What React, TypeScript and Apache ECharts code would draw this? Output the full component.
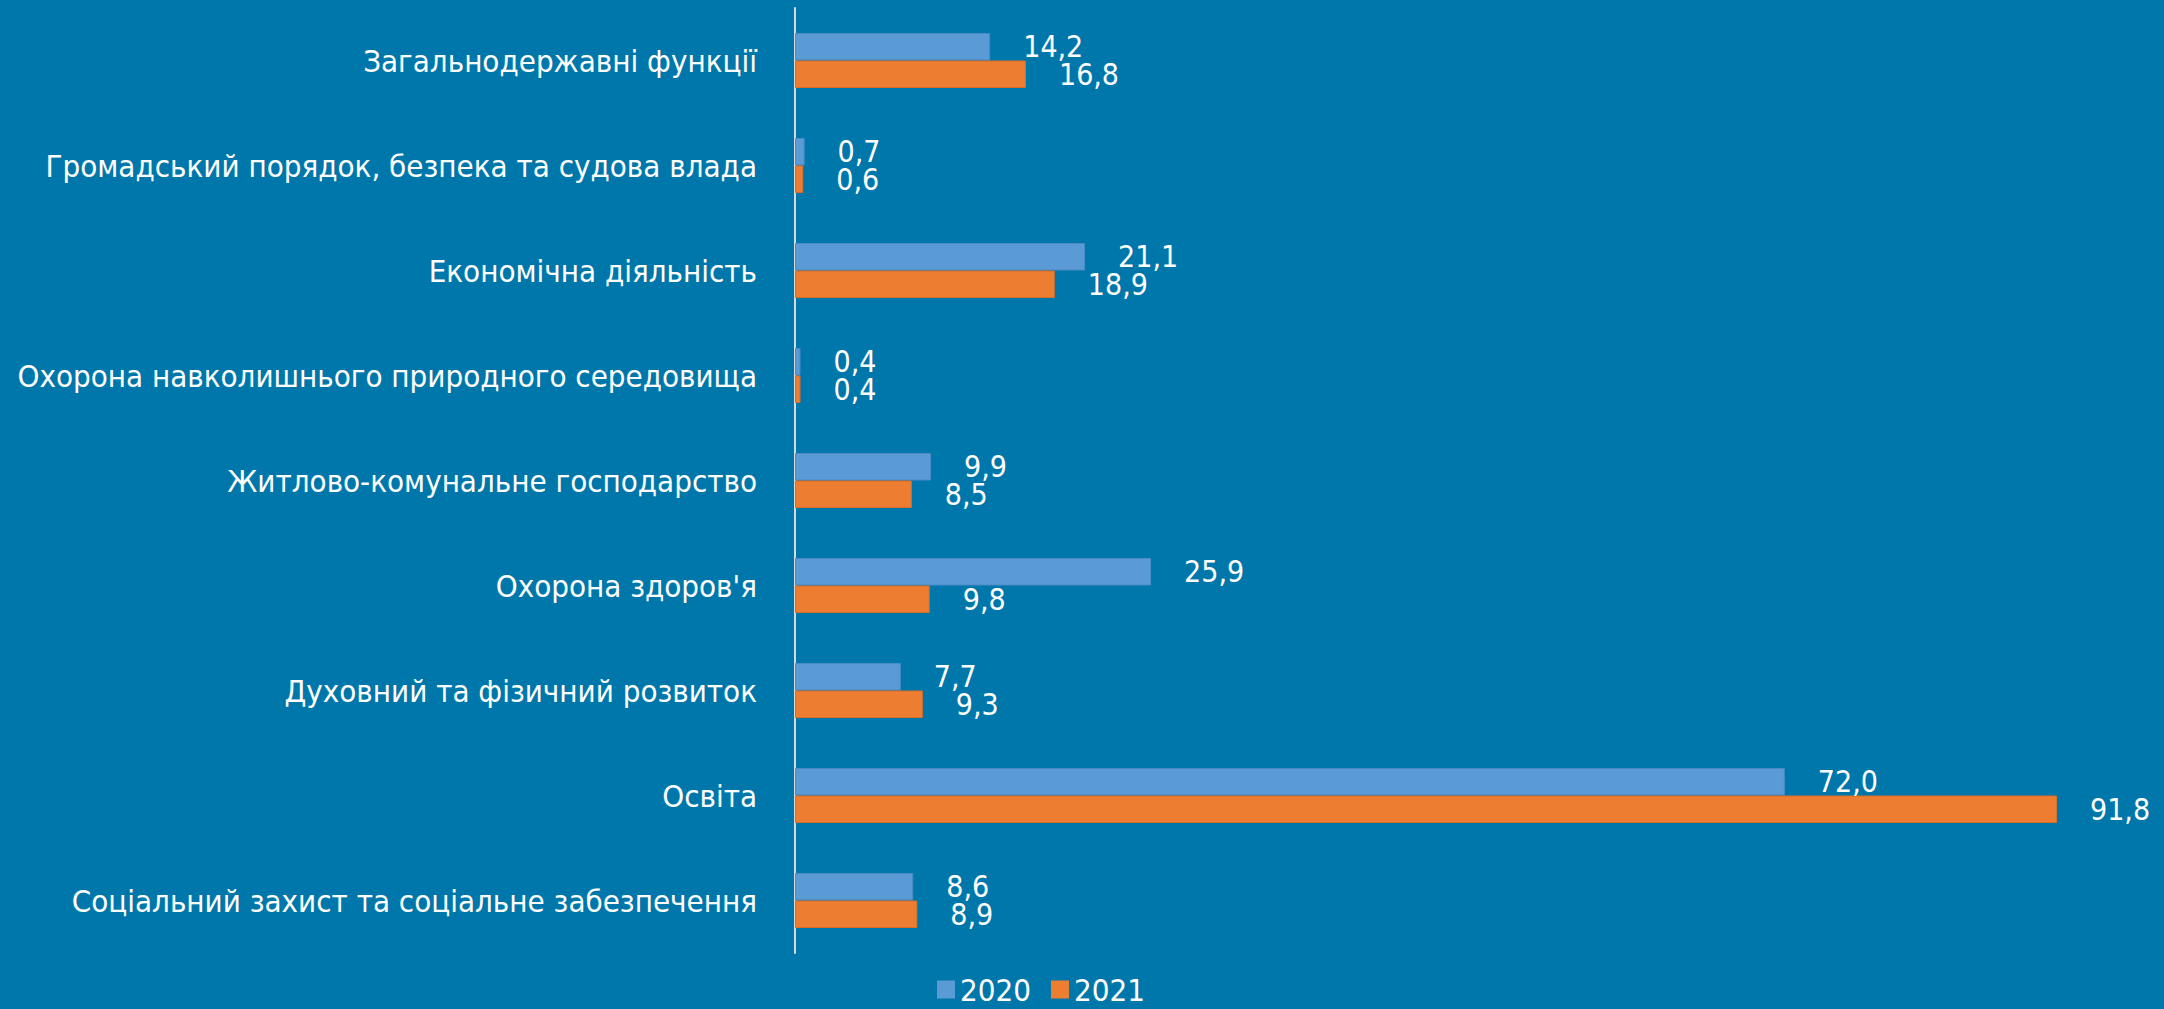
import React, { useEffect, useRef } from "react";
import * as echarts from "echarts";

const categories = [
  "Загальнодержавні функції",
  "Громадський порядок, безпека та судова влада",
  "Економічна діяльність",
  "Охорона навколишнього природного середовища",
  "Житлово-комунальне господарство",
  "Охорона здоров'я",
  "Духовний та фізичний розвиток",
  "Освіта",
  "Соціальний захист та соціальне забезпечення",
];
const values2020 = [14.2, 0.7, 21.1, 0.4, 9.9, 25.9, 7.7, 72.0, 8.6];
const values2021 = [16.8, 0.6, 18.9, 0.4, 8.5, 9.8, 9.3, 91.8, 8.9];
const seriesNames = ["2020", "2021"];

const FONT = "'DejaVu Sans Condensed', 'DejaVu Sans', sans-serif";

export default function App() {
  const ref = useRef<HTMLDivElement>(null);
  useEffect(() => {
    if (!ref.current) return;
    const chart = echarts.init(ref.current, undefined, { renderer: "svg" });
    const label = {
      show: true,
      position: "right" as const,
      distance: 33,
      color: "#ffffff",
      fontSize: 30,
      lineHeight: 26,
      fontFamily: FONT,
      formatter: (p: any) => Number(p.value).toFixed(1).replace(".", ","),
    };
    chart.setOption({
      animation: false,
      backgroundColor: "#0077AA",
      textStyle: { fontFamily: FONT },
      grid: { left: 795, top: 8, width: 1361, height: 945, containLabel: false },
      legend: {
        data: seriesNames,
        left: 932,
        top: 969,
        itemWidth: 18,
        itemHeight: 18,
        itemGap: 20,
        icon: "rect",
        itemStyle: { borderWidth: 0 },
        textStyle: { color: "#ffffff", fontSize: 31, lineHeight: 26, fontFamily: FONT },
      },
      xAxis: {
        type: "value",
        min: 0,
        max: 99,
        show: false,
        splitLine: { show: false },
      },
      yAxis: {
        type: "category",
        data: categories,
        inverse: true,
        axisLine: { show: true, lineStyle: { color: "#D9D9D9", width: 2 } },
        axisTick: { show: false },
        axisLabel: { color: "#ffffff", fontSize: 31, fontFamily: FONT, margin: 38 },
      },
      series: [
        {
          name: seriesNames[0],
          type: "bar",
          data: values2020,
          barWidth: 27.5,
          barGap: "0%",
          itemStyle: { color: "#5B9BD5", borderColor: "#4A8BC6", borderWidth: 1 },
          label,
        },
        {
          name: seriesNames[1],
          type: "bar",
          data: values2021,
          barWidth: 27.5,
          barGap: "0%",
          itemStyle: { color: "#ED7D31", borderColor: "#D96E28", borderWidth: 1 },
          label,
        },
      ],
    });
    return () => chart.dispose();
  }, []);
  return (
    <div
      ref={ref}
      style={{ position: "absolute", left: 0, top: 0, width: 2164, height: 1009 }}
    />
  );
}
